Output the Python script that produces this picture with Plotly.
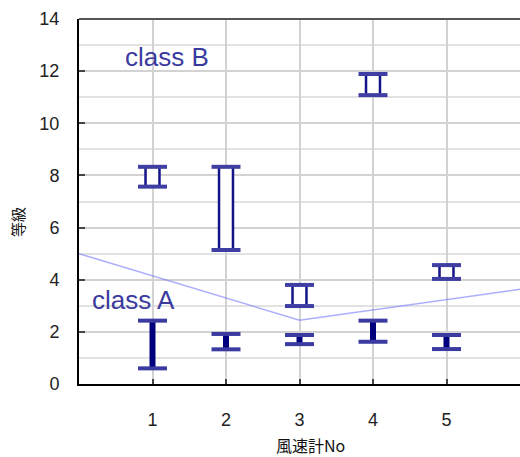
import plotly.graph_objects as go

# 風速計ごとの等級レンジ
anemometer = [1, 2, 3, 4, 5]
class_a_low = [0.60, 1.33, 1.53, 1.62, 1.34]
class_a_high = [2.43, 1.92, 1.88, 2.43, 1.88]
class_b_low = [7.57, 5.14, 2.99, 11.08, 4.03]
class_b_high = [8.33, 8.33, 3.80, 11.89, 4.56]

# 境界線 (class A / class B)
boundary_x = [0, 3, 6]
boundary_y = [5.0, 2.45, 3.63]

y_ticks = [0, 2, 4, 6, 8, 10, 12, 14]

CAP_HALF = 0.197   # cap half-width in x units
BOX_HALF = 0.095   # hollow box half-width in x units


def caps(xs, lows, highs):
    px, py = [], []
    for x, lo, hi in zip(xs, lows, highs):
        px += [x - CAP_HALF, x + CAP_HALF, None, x - CAP_HALF, x + CAP_HALF, None]
        py += [hi, hi, None, lo, lo, None]
    return px, py


def stems(xs, lows, highs):
    px, py = [], []
    for x, lo, hi in zip(xs, lows, highs):
        px += [x, x, None]
        py += [lo, hi, None]
    return px, py


def boxes(xs, lows, highs):
    px, py = [], []
    for x, lo, hi in zip(xs, lows, highs):
        px += [x - BOX_HALF, x + BOX_HALF, x + BOX_HALF, x - BOX_HALF, x - BOX_HALF, None]
        py += [lo, lo, hi, hi, lo, None]
    return px, py


fig = go.Figure()

fig.add_trace(go.Scatter(
    x=boundary_x, y=boundary_y, mode="lines",
    line=dict(color="rgba(120,120,255,0.6)", width=1.5),
    hoverinfo="skip", showlegend=False,
))

# class A: solid thick stems
sx, sy = stems(anemometer, class_a_low, class_a_high)
fig.add_trace(go.Scatter(x=sx, y=sy, mode="lines",
                         line=dict(color="#00007f", width=6),
                         showlegend=False, name="class A"))
cx, cy = caps(anemometer, class_a_low, class_a_high)
fig.add_trace(go.Scatter(x=cx, y=cy, mode="lines",
                         line=dict(color="#3a3aa0", width=4),
                         showlegend=False, name="class A"))

# class B: hollow boxes
bx, by = boxes(anemometer, class_b_low, class_b_high)
fig.add_trace(go.Scatter(x=bx, y=by, mode="lines", fill="toself",
                         fillcolor="white",
                         line=dict(color="#14148a", width=2.5),
                         showlegend=False, name="class B"))
cx, cy = caps(anemometer, class_b_low, class_b_high)
fig.add_trace(go.Scatter(x=cx, y=cy, mode="lines",
                         line=dict(color="#3f3fa3", width=4),
                         showlegend=False, name="class B"))

label_font = dict(family="Liberation Sans, Arial, sans-serif", size=26, color="#3a3a9e")
fig.add_annotation(x=1.204, y=12.54, text="class B", showarrow=False,
                   font=label_font, xanchor="center", yanchor="middle")
fig.add_annotation(x=0.735, y=3.22, text="class A", showarrow=False,
                   font=label_font, xanchor="center", yanchor="middle")

title_font = dict(family="Noto Sans CJK JP, sans-serif", size=16, color="#111")
fig.add_annotation(xref="paper", yref="paper", x=0.524, y=-0.166,
                   text="風速計No", showarrow=False, font=title_font,
                   xanchor="center", yanchor="middle")
fig.add_annotation(xref="paper", yref="paper", x=-0.138, y=0.444,
                   text="等級", showarrow=False, font=dict(title_font, size=15),
                   textangle=-90, xanchor="center", yanchor="middle")

# top frame line
fig.add_shape(type="line", xref="paper", yref="paper", x0=0, x1=1, y0=1, y1=1,
              line=dict(color="#555", width=2))

tick_font = dict(family="Liberation Sans, Arial, sans-serif", size=18, color="#222")

fig.update_layout(
    width=520, height=457,
    margin=dict(l=79, r=0, t=19, b=73),
    paper_bgcolor="white", plot_bgcolor="white",
    xaxis=dict(
        range=[0, 6], tickvals=anemometer, ticks="inside", ticklen=5,
        tickwidth=2, tickcolor="#444",
        showline=True, linecolor="black", linewidth=2,
        showgrid=True, gridcolor="#d2d2d2", gridwidth=2,
        zeroline=False, tickfont=tick_font, ticklabelstandoff=18,
    ),
    yaxis=dict(
        range=[0, 14], tickvals=y_ticks, ticks="inside", ticklen=6,
        tickwidth=2, tickcolor="#444",
        showline=True, linecolor="black", linewidth=2,
        showgrid=True, gridcolor="#d2d2d2", gridwidth=2,
        minor=dict(dtick=1, showgrid=True, gridcolor="#e2e2e2", gridwidth=2),
        zeroline=False, tickfont=tick_font, ticklabelstandoff=14,
    ),
)

fig.write_html("out.html")
